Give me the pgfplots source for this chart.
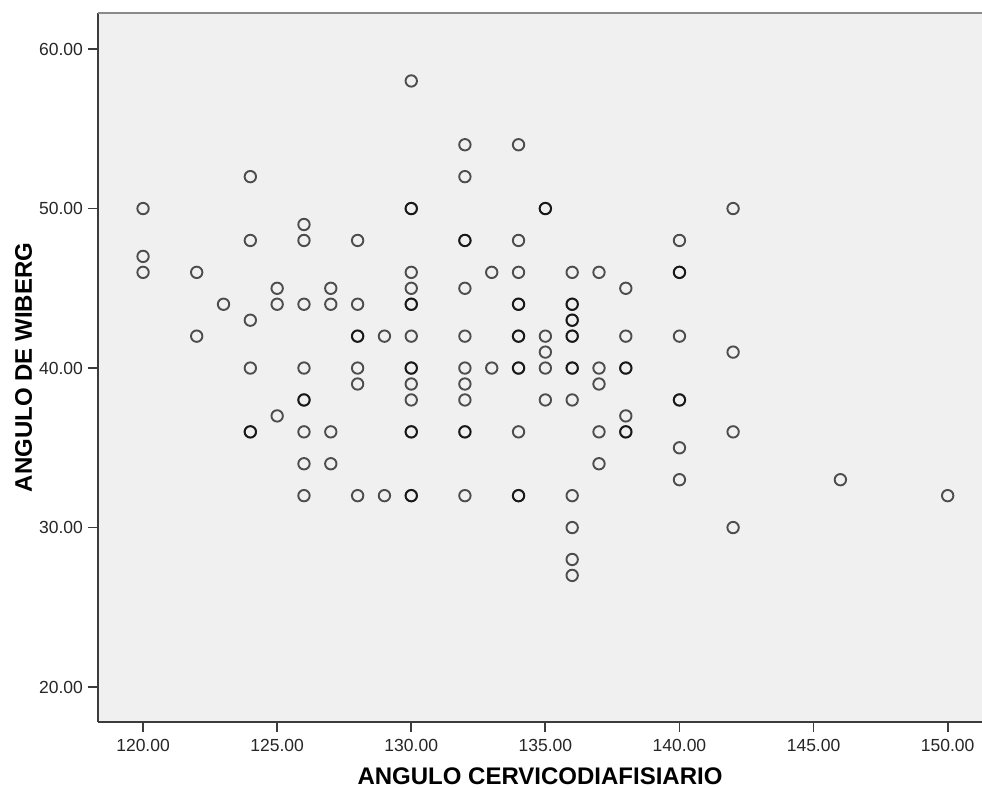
\documentclass[border=0pt]{standalone}
\usepackage{pgfplots}
\pgfplotsset{compat=1.18}
\usepackage{fontspec}
\setmainfont{Liberation Sans}
\definecolor{plotbg}{HTML}{F0F0F0}
\definecolor{framecol}{HTML}{3C3C3C}
\definecolor{topcol}{HTML}{8A8A8A}
\begin{document}
\begin{tikzpicture}
\begin{axis}[
  at={(0,0)}, anchor=south west,
  scale only axis, width=442pt, height=354.5pt,
  xmin=118.32, xmax=151.28, ymin=17.81, ymax=62.26,
  axis x line*=bottom, axis y line*=left,
  axis line style={framecol, line width=0.9pt, -},
  axis background/.style={fill=plotbg},
  xtick={120,125,...,150}, ytick={20,30,...,60},
  tick align=outside, major tick length=5pt,
  tick style={framecol, line width=0.9pt},
  /pgf/number format/assume math mode=true,
  /pgf/number format/fixed, /pgf/number format/fixed zerofill,
  /pgf/number format/precision=2, /pgf/number format/1000 sep={},
  tick label style={font=\fontsize{8.75}{10}\selectfont, text=black!85},
  yticklabel style={xshift=1pt},
  label style={font=\bfseries\fontsize{12}{14}\selectfont},
  xlabel={ANGULO CERVICODIAFISIARIO},
  ylabel={ANGULO DE WIBERG},
  xlabel style={at={(axis description cs:0.5,-0.0875)}, anchor=base},
  ylabel style={at={(axis description cs:-0.0747,0.5)}, anchor=base},
]
\addplot[only marks, mark=o, mark size=2.85pt,
  mark options={draw=black, line width=0.95pt, draw opacity=0.68}]
  table {
x y
120 50
120 47
120 46
122 46
122 42
123 44
124 52
124 48
124 43
124 40
124 36
124 36
125 45
125 44
125 37
126 49
126 48
126 44
126 40
126 38
126 38
126 36
126 34
126 32
127 45
127 44
127 36
127 34
128 48
128 44
128 42
128 42
128 40
128 39
128 32
129 42
129 32
130 58
130 50
130 50
130 46
130 45
130 44
130 44
130 42
130 40
130 40
130 39
130 38
130 36
130 36
130 32
130 32
132 54
132 52
132 48
132 48
132 45
132 42
132 40
132 39
132 38
132 36
132 36
132 32
133 46
133 40
134 54
134 48
134 46
134 44
134 44
134 42
134 42
134 40
134 40
134 36
134 32
134 32
135 50
135 50
135 42
135 41
135 40
135 38
136 46
136 44
136 44
136 43
136 43
136 42
136 42
136 40
136 40
136 38
136 32
136 30
136 28
136 27
137 46
137 40
137 39
137 36
137 34
138 45
138 42
138 40
138 40
138 37
138 36
138 36
140 48
140 46
140 46
140 42
140 38
140 38
140 35
140 33
142 50
142 41
142 36
142 30
146 33
150 32
};
\draw[topcol, line width=1.2pt] (rel axis cs:0,1) -- (rel axis cs:1,1);
\end{axis}
\pgfresetboundingbox
\useasboundingbox (-49pt,-33pt) rectangle (442pt,361pt);
\end{tikzpicture}
\end{document}
